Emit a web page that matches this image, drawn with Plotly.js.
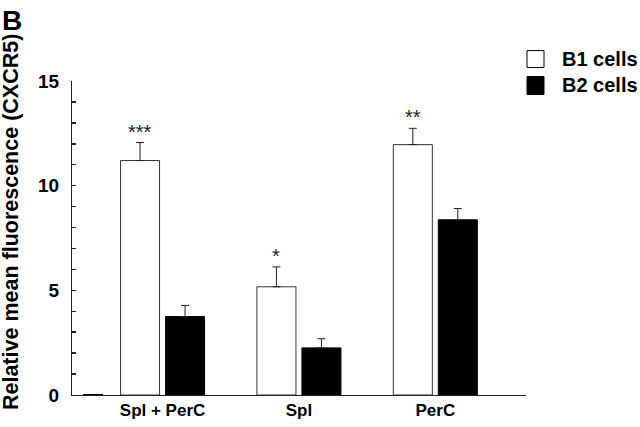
<!DOCTYPE html>
<html>
<head>
<meta charset="utf-8">
<script src="https://cdn.plot.ly/plotly-3.0.1.min.js"></script>
<style>html,body{margin:0;padding:0;background:#fff;}#chart{width:640px;height:427px;}</style>
</head>
<body>
<div id="chart"></div>
<script>
// ---- data ----
const categories = ['Spl + PerC', 'Spl', 'PerC'];
const seriesNames = ['B1 cells', 'B2 cells'];
const b1Values = [11.2, 5.17, 11.96];
const b1Errors = [0.86, 0.95, 0.78];
const b2Values = [3.75, 2.25, 8.37];
const b2Errors = [0.53, 0.44, 0.54];
const b1Significance = ['***', '*', '**'];
const yTickVals = [0, 5, 10, 15];

const FONT = 'Liberation Sans, Arial, Helvetica, sans-serif';
const zeros = categories.map(() => 0);

const traces = [
  {
    type: 'bar', name: seriesNames[0], x: categories, y: b1Values,
    marker: {color: '#ffffff', line: {color: '#333333', width: 1}},
    error_y: {type: 'data', symmetric: false, array: b1Errors, arrayminus: zeros,
              color: '#222222', thickness: 1, width: 4},
    showlegend: false, hoverinfo: 'skip'
  },
  {
    type: 'bar', name: seriesNames[1], x: categories, y: b2Values,
    marker: {color: '#000000', line: {color: '#000000', width: 1}},
    error_y: {type: 'data', symmetric: false, array: b2Errors, arrayminus: zeros,
              color: '#222222', thickness: 1, width: 4},
    showlegend: false, hoverinfo: 'skip'
  }
];

// significance markers above B1 error bars
const annotations = categories.map((c, i) => ({
  x: c, y: b1Values[i] + b1Errors[i], xref: 'x', yref: 'y',
  text: b1Significance[i],
  showarrow: false, yanchor: 'middle', xshift: -22.5, yshift: 11,
  font: {family: FONT, size: 20, color: '#222'}
}));

// panel letter
annotations.push({
  xref: 'paper', yref: 'paper', x: (0 - 72) / 454, y: (395.5 - 2) / 315,
  xanchor: 'left', yanchor: 'top', showarrow: false, text: 'B',
  font: {family: FONT, size: 28, color: '#000', weight: 'bold'}
});

// y-axis title
annotations.push({
  xref: 'paper', yref: 'paper', x: (11 - 72) / 454, y: (395.5 - 222) / 315,
  xanchor: 'center', yanchor: 'middle', showarrow: false, textangle: -90,
  text: 'Relative mean fluorescence (CXCR5)',
  font: {family: FONT, size: 21.5, color: '#000', weight: 'bold'}
});

// custom legend
const legendTextY = [58, 85];
const legendBox = [[50, 67], [76, 94]];
const legendFill = ['#ffffff', '#000000'];
const shapes = [];
seriesNames.forEach((n, i) => {
  shapes.push({
    type: 'rect', xref: 'paper', yref: 'paper',
    x0: (527 - 72) / 454, x1: (544 - 72) / 454,
    y0: (395.5 - legendBox[i][1]) / 315, y1: (395.5 - legendBox[i][0]) / 315,
    fillcolor: legendFill[i], line: {color: '#000', width: 1}
  });
  annotations.push({
    xref: 'paper', yref: 'paper', x: (560 - 72) / 454, y: (395.5 - legendTextY[i]) / 315,
    xanchor: 'left', yanchor: 'middle', showarrow: false, text: n,
    font: {family: FONT, size: 20, color: '#000', weight: 'bold'}
  });
});

// small dash at the baseline near the origin
shapes.push({
  type: 'line', xref: 'x', yref: 'y', x0: -0.583, x1: -0.437, y0: 0, y1: 0,
  line: {color: '#000', width: 2}
});

const layout = {
  width: 640, height: 427,
  margin: {l: 72, r: 114, t: 80.5, b: 31.5},
  paper_bgcolor: '#ffffff', plot_bgcolor: '#ffffff',
  barmode: 'group', bargap: 0.34, bargroupgap: 0.133,
  showlegend: false,
  xaxis: {
    type: 'category', range: [-0.664, 2.665],
    showline: true, linecolor: '#222', linewidth: 1,
    showgrid: false, zeroline: false, ticks: '',
    tickfont: {family: FONT, size: 17, color: '#000', weight: 'bold'},
    fixedrange: true
  },
  yaxis: {
    range: [0, 15], tickmode: 'linear', tick0: yTickVals[0],
    dtick: yTickVals[1] - yTickVals[0],
    showline: true, linecolor: '#222', linewidth: 1,
    showgrid: false, zeroline: false,
    ticks: 'inside', ticklen: 4, tickwidth: 1.5, tickcolor: '#222',
    minor: {dtick: 1, ticks: 'inside', ticklen: 4, tickwidth: 1.5, tickcolor: '#222', showgrid: false},
    ticklabelstandoff: 8,
    tickfont: {family: FONT, size: 19, color: '#000', weight: 'bold'},
    fixedrange: true
  },
  annotations: annotations,
  shapes: shapes
};

Plotly.newPlot('chart', traces, layout, {displayModeBar: false, staticPlot: true});
</script>
</body>
</html>
